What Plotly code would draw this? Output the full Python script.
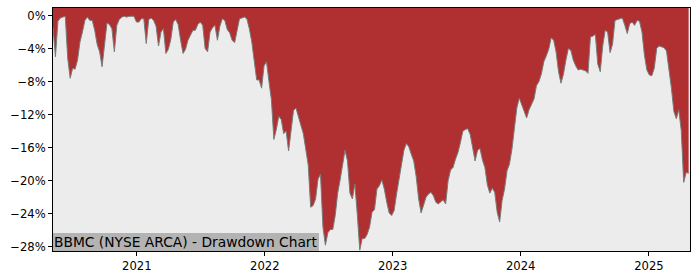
import pandas as pd
import plotly.graph_objects as go

# Weekly drawdown (%) of BBMC
start_date = "2020-05-07"
drawdown = [
    -1.5, -5.0, -0.7, -0.3, -0.2, -0.1, -5.2, -7.6, -6.4, -6.5,
    -5.4, -3.2, -2.0, -0.6, -0.2, -0.6, -0.6, -1.8, -3.5, -4.4,
    -6.2, -3.6, -0.9, -1.1, -1.6, -4.4, -1.2, -0.5, -0.2, -0.1,
    -0.2, -0.1, -0.1, -0.1, -0.8, -0.8, -0.4, -0.4, -3.4, -0.5,
    -0.3, -0.6, -1.3, -3.7, -2.0, -1.6, -4.6, -4.1, -2.9, -0.8,
    -0.5, -1.1, -3.0, -4.6, -4.1, -3.0, -2.4, -1.8, -1.8, -1.1,
    -0.8, -1.2, -4.0, -4.4, -2.0, -1.5, -1.2, -3.0, -1.3, -0.4,
    -0.6, -1.7, -2.1, -3.0, -3.3, -1.6, -0.4, -0.3, -0.2, -0.4,
    -1.6, -3.2, -5.6, -7.8, -7.8, -8.8, -6.1, -5.6, -8.0, -10.2,
    -15.0, -13.8, -12.2, -12.6, -14.3, -14.0, -16.4, -13.8, -11.5, -11.2,
    -12.2, -13.3, -14.3, -16.2, -18.1, -23.2, -23.0, -22.2, -19.8, -19.2,
    -25.6, -27.8, -26.3, -25.9, -25.9, -24.2, -21.5, -19.9, -17.9, -16.3,
    -17.6, -21.5, -22.2, -20.4, -24.1, -28.4, -27.0, -27.0, -26.5, -25.6,
    -23.8, -23.5, -21.0, -20.6, -19.9, -21.0, -22.6, -23.9, -24.2, -23.6,
    -21.6, -19.8, -18.4, -16.3, -15.5, -15.9, -16.8, -17.6, -19.5, -22.2,
    -23.9, -22.8, -22.0, -21.6, -21.4, -21.8, -22.6, -22.8, -22.6, -22.3,
    -22.8, -20.0, -18.7, -18.4, -17.4, -16.6, -15.4, -14.0, -13.8, -13.7,
    -14.4, -15.8, -17.6, -16.3, -16.1, -17.5, -18.4, -20.5, -21.5, -20.9,
    -21.4, -23.8, -25.0, -22.4, -21.0, -18.8, -18.0, -16.2, -14.0, -11.2,
    -10.0, -10.8, -11.8, -12.4, -11.4, -10.7, -10.1, -8.5, -8.0, -7.1,
    -5.6, -4.9, -4.1, -2.7, -3.0, -4.4, -6.8, -8.2, -7.1, -5.4,
    -4.0, -4.2, -5.4, -6.1, -6.6, -6.5, -6.6, -6.7, -7.0, -2.6,
    -2.5, -2.3, -5.9, -6.8, -3.7, -1.8, -2.0, -4.5, -3.5, -0.6,
    -0.5, -0.4, -0.3, -1.2, -2.2, -1.0, -0.8, -1.2, -0.6, -0.7,
    -2.0, -4.8, -6.6, -7.2, -7.3, -6.4, -4.0, -3.7, -3.8, -3.9,
    -4.3, -6.5, -8.8, -11.6, -12.5, -11.4, -13.9, -20.2, -19.0, -19.1,
]
dates = pd.date_range(start_date, periods=len(drawdown), freq="7D")

y_tick_vals = [0, -4, -8, -12, -16, -20, -24, -28]
y_tick_text = ["0%", "\u22124%", "\u22128%", "\u221212%", "\u221216%",
               "\u221220%", "\u221224%", "\u221228%"]
x_tick_vals = ["2021-01-01", "2022-01-01", "2023-01-01", "2024-01-01", "2025-01-01"]
x_tick_text = ["2021", "2022", "2023", "2024", "2025"]

Y_MIN, Y_MAX = -28.5, 0.9
X_RANGE = ["2020-05-07", "2025-04-28"]
title_text = "BBMC (NYSE ARCA) - Drawdown Chart"

RED = "#b03031"
BG = "#ececec"

fig = go.Figure()
# ceiling boundary (top of axis) for the red fill
fig.add_trace(go.Scatter(x=dates, y=[Y_MAX] * len(drawdown), mode="lines",
                         line=dict(width=0, color=RED), hoverinfo="skip",
                         showlegend=False))
fig.add_trace(go.Scatter(x=dates, y=drawdown, mode="lines",
                         line=dict(color="#7a7a7a", width=1),
                         fill="tonexty", fillcolor=RED, showlegend=False))

axis_common = dict(showline=True, linecolor="black", linewidth=1, mirror=True,
                   ticks="outside", ticklen=4, tickwidth=1, tickcolor="black",
                   showgrid=False, zeroline=False,
                   tickfont=dict(family="DejaVu Sans", size=11.6, color="black"))

fig.update_xaxes(range=X_RANGE, tickvals=x_tick_vals, ticktext=x_tick_text,
                 **axis_common)
fig.update_yaxes(range=[Y_MIN, Y_MAX], tickvals=y_tick_vals, ticktext=y_tick_text,
                 **axis_common)

fig.add_annotation(text=title_text, xref="paper", yref="paper", x=0, y=0,
                   xanchor="left", yanchor="bottom", showarrow=False,
                   font=dict(family="DejaVu Sans", size=13.8, color="black"),
                   bgcolor="#b3b3b3", borderpad=0, borderwidth=1,
                   bordercolor="#b3b3b3")

fig.update_layout(width=700, height=280,
                  margin=dict(l=53, r=10, t=7, b=28),
                  plot_bgcolor=BG, paper_bgcolor="white")

fig.write_html("out.html")
